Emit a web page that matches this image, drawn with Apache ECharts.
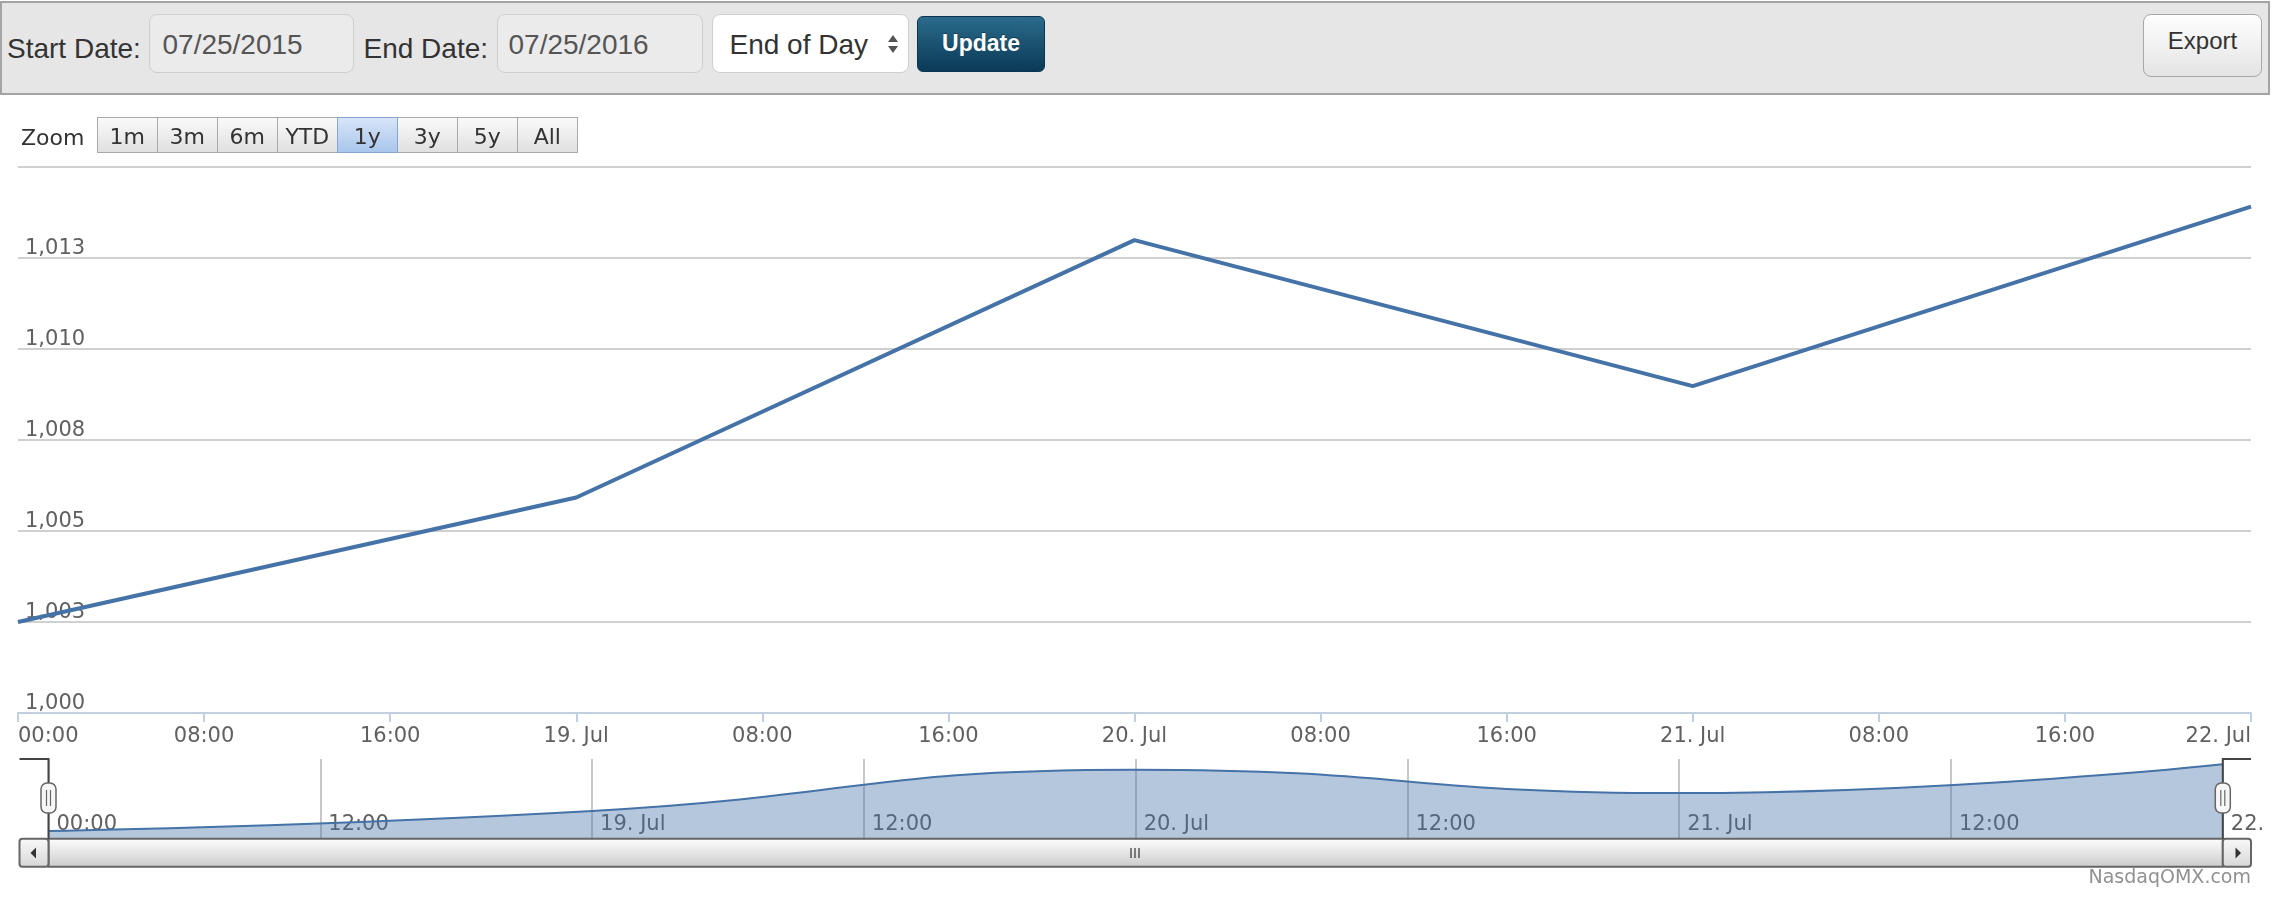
<!DOCTYPE html>
<html>
<head>
<meta charset="utf-8">
<script src="https://cdn.jsdelivr.net/npm/echarts@6/dist/echarts.min.js"></script>
<style>
html,body{margin:0;padding:0;background:#fff;width:2272px;height:906px;overflow:hidden;}
#chart{position:absolute;left:0;top:0;width:2268px;height:906px;}
.ui{position:absolute;z-index:10;font-family:"Liberation Sans",Arial,Helvetica,sans-serif;white-space:nowrap;}
#bar{left:0;top:1px;width:2266px;height:90px;border:2px solid #a4a4a4;background:#e6e6e6;z-index:5;}
.t28{font-size:28px;line-height:28px;}
.box{box-sizing:border-box;top:14px;height:59px;border:1.5px solid #cfcfcf;border-radius:8px;background:#ebebeb;}
.arr{width:0;height:0;border-left:5px solid transparent;border-right:5px solid transparent;}
.zb{position:absolute;box-sizing:border-box;top:116.7px;height:36.6px;width:61px;border:1.5px solid #a9a9a9;
    background:linear-gradient(#fafafa,#e0e0e0);font-family:"DejaVu Sans",sans-serif;font-size:22px;line-height:22px;color:#333;text-align:center;z-index:10;}
.zb span{position:absolute;left:0;right:0;top:8.5px;}
.zb.sel{background:linear-gradient(#d7e5f8,#a9c6ec);border-color:#86a5d0;z-index:11;}
</style>
</head>
<body>
<div id="chart"></div>

<div id="bar" class="ui"></div>
<div class="ui t28" style="left:7px;top:35.3px;color:#333;">Start Date:</div>
<div class="ui box" style="left:149px;width:205px;"></div>
<div class="ui t28" style="left:162.5px;top:31.3px;color:#555;">07/25/2015</div>
<div class="ui t28" style="left:363.5px;top:35.3px;color:#333;">End Date:</div>
<div class="ui box" style="left:497px;width:206px;"></div>
<div class="ui t28" style="left:508.5px;top:31.3px;color:#555;">07/25/2016</div>
<div class="ui box" style="left:712px;width:197px;background:#fff;"></div>
<div class="ui t28" style="left:729.5px;top:31.3px;color:#333;">End of Day</div>
<div class="ui arr" style="left:887.5px;top:35px;border-bottom:7px solid #555;"></div>
<div class="ui arr" style="left:887.5px;top:46px;border-top:7px solid #555;"></div>
<div class="ui" style="left:917px;top:16px;width:128px;height:56px;box-sizing:border-box;border:1px solid #0b3550;border-radius:6px;background:linear-gradient(#2b6b8b,#0a3a57);"></div>
<div class="ui" style="left:917px;width:128px;top:31.5px;text-align:center;font-size:23px;line-height:23px;font-weight:bold;color:#fff;text-shadow:0 -1px 0 rgba(0,0,0,0.35);">Update</div>
<div class="ui" style="left:2143px;top:14px;width:119px;height:63px;box-sizing:border-box;border:1.5px solid #a8a8a8;border-radius:8px;background:linear-gradient(#fefefe,#e4e4e4);"></div>
<div class="ui" style="left:2143px;width:119px;top:29px;text-align:center;font-size:24px;line-height:24px;color:#333;">Export</div>

<div class="ui" style="left:21px;top:126.7px;font-family:'DejaVu Sans',sans-serif;font-size:22px;line-height:22px;color:#333;">Zoom</div>
<div id="zoombtns"></div>

<script>
// ---- data ----
const dates = ['2016-07-18T00:00:00Z', '2016-07-19T00:00:00Z', '2016-07-20T00:00:00Z', '2016-07-21T00:00:00Z', '2016-07-22T00:00:00Z'];
const values = [1002.5, 1005.92, 1012.99, 1008.98, 1013.91];
const xTickLabels = ['00:00', '08:00', '16:00', '19. Jul', '08:00', '16:00', '20. Jul', '08:00', '16:00', '21. Jul', '08:00', '16:00', '22. Jul'];
const navTickLabels = ['00:00', '12:00', '19. Jul', '12:00', '20. Jul', '12:00', '21. Jul', '12:00', '22. Jul'];
const yTickLabels = ['1,000', '1,003', '1,005', '1,008', '1,010', '1,013', ''];
const zoomButtons = ['1m', '3m', '6m', 'YTD', '1y', '3y', '5y', 'All'];
const selectedZoom = '1y';
const credit = 'NasdaqOMX.com';

// ---- zoom buttons (HTML) ----
(function () {
  const host = document.getElementById('zoombtns');
  zoomButtons.forEach(function (b, i) {
    const d = document.createElement('div');
    d.className = 'zb' + (b === selectedZoom ? ' sel' : '');
    d.style.left = (96.8 + i * 60) + 'px';
    d.innerHTML = '<span>' + b + '</span>';
    host.appendChild(d);
  });
})();

// ---- chart ----
const t0 = Date.parse(dates[0]);
const hours = dates.map(d => (Date.parse(d) - t0) / 3600000);
const seriesData = hours.map((h, i) => [h, values[i]]);

const chart = echarts.init(document.getElementById('chart'), null, {renderer: 'canvas'});
const FONT = 'DejaVu Sans';
const LBL = '#606060';

const navTop = 759, navBot = 838.7, navL = 48.5, navR = 2222.8, outerL = 19.5, outerR = 2251;
const sbTop = 838.7, sbH = 28;
const grad = (a, b) => ({type: 'linear', x: 0, y: 0, x2: 0, y2: 1, colorStops: [{offset: 0, color: a}, {offset: 1, color: b}]});
const handle = (cx) => ([
  {type: 'rect', z: 120, shape: {x: cx - 7.5, y: 783, width: 15, height: 30, r: 6}, style: {fill: '#f7f7f7', stroke: '#666', lineWidth: 1.5}},
  {type: 'line', z: 121, shape: {x1: cx - 2, y1: 790, x2: cx - 2, y2: 806}, style: {stroke: '#666', lineWidth: 1.2}},
  {type: 'line', z: 121, shape: {x1: cx + 2, y1: 790, x2: cx + 2, y2: 806}, style: {stroke: '#666', lineWidth: 1.2}}
]);

const option = {
  animation: false,
  grid: [
    {left: 18, top: 167, width: 2233, height: 546, containLabel: false, outerBoundsMode: 'none'},
    {left: navL, top: navTop, width: navR - navL, height: navBot - navTop, containLabel: false, outerBoundsMode: 'none'}
  ],
  xAxis: [
    {
      type: 'value', gridIndex: 0, min: 0, max: 96, interval: 8,
      axisLine: {show: true, lineStyle: {color: '#C0D0E0', width: 2}},
      axisTick: {show: true, length: 9, lineStyle: {color: '#C0D0E0', width: 2}},
      axisLabel: {
        formatter: v => xTickLabels[Math.round(v / 8)], color: LBL, fontFamily: FONT, fontSize: 21,
        margin: 13, alignMinLabel: 'left', alignMaxLabel: 'right'
      },
      splitLine: {show: false}
    },
    {
      type: 'value', gridIndex: 1, min: 0, max: 96, interval: 12,
      axisLine: {show: false}, axisTick: {show: false},
      axisLabel: {
        inside: true, formatter: v => navTickLabels[Math.round(v / 12)], align: 'left', padding: [0, 0, 0, 8],
        color: LBL, fontFamily: FONT, fontSize: 21, margin: 4
      },
      splitLine: {show: true, lineStyle: {color: '#b4b4b4', width: 1.5}}
    }
  ],
  yAxis: [
    {
      type: 'value', gridIndex: 0, min: 1000, max: 1015, interval: 2.5,
      axisLine: {show: false}, axisTick: {show: false},
      axisLabel: {
        inside: true, formatter: v => yTickLabels[Math.round((v - 1000) / 2.5)], verticalAlign: 'bottom',
        margin: 7, color: LBL, fontFamily: FONT, fontSize: 21, lineHeight: 19, padding: [0, 0, 0, 0]
      },
      splitLine: {show: true, lineStyle: {color: '#C0C0C0', width: 1.5}}
    },
    {type: 'value', gridIndex: 1, min: 1001.18, max: 1014.82, show: false, splitLine: {show: false}}
  ],
  series: [
    {
      type: 'line', xAxisIndex: 0, yAxisIndex: 0, data: seriesData, symbol: 'none',
      lineStyle: {color: '#4572A7', width: 4}, z: 5
    },
    {
      type: 'line', xAxisIndex: 1, yAxisIndex: 1, data: seriesData, symbol: 'none', smooth: true,
      lineStyle: {color: '#4572A7', width: 2}, areaStyle: {color: '#4572A7', opacity: 0.4, origin: 'start'}, z: 5
    }
  ],
  graphic: [
    // scrollbar
    {type: 'rect', z: 100, shape: {x: navL, y: sbTop, width: navR - navL, height: sbH}, style: {fill: grad('#ffffff', '#cbcbcb'), stroke: '#666', lineWidth: 2}},
    {type: 'rect', z: 101, shape: {x: outerL, y: sbTop, width: navL - outerL, height: sbH, r: 3}, style: {fill: grad('#fafafa', '#d6d6d6'), stroke: '#666', lineWidth: 2}},
    {type: 'rect', z: 101, shape: {x: navR, y: sbTop, width: outerR - navR, height: sbH, r: 3}, style: {fill: grad('#fafafa', '#d6d6d6'), stroke: '#666', lineWidth: 2}},
    {type: 'polygon', z: 102, shape: {points: [[36, 847.5], [36, 858.5], [30.5, 853]]}, style: {fill: '#333'}},
    {type: 'polygon', z: 102, shape: {points: [[2235.5, 847.5], [2235.5, 858.5], [2241, 853]]}, style: {fill: '#333'}},
    {type: 'line', z: 102, shape: {x1: 1131, y1: 848, x2: 1131, y2: 858}, style: {stroke: '#333', lineWidth: 1.2}},
    {type: 'line', z: 102, shape: {x1: 1135, y1: 848, x2: 1135, y2: 858}, style: {stroke: '#333', lineWidth: 1.2}},
    {type: 'line', z: 102, shape: {x1: 1139, y1: 848, x2: 1139, y2: 858}, style: {stroke: '#333', lineWidth: 1.2}},
    // navigator outline
    {type: 'polyline', z: 110, shape: {points: [[outerL, navTop], [navL, navTop], [navL, navBot]]}, style: {stroke: '#444', lineWidth: 2, fill: null}},
    {type: 'polyline', z: 110, shape: {points: [[navR, navBot], [navR, navTop], [outerR, navTop]]}, style: {stroke: '#444', lineWidth: 2, fill: null}},
    ...handle(navL), ...handle(navR),
    // credit
    {type: 'text', z: 100, style: {x: 2251, y: 878, text: credit, align: 'right', verticalAlign: 'middle', fill: '#909090', font: '19px "DejaVu Sans"'}}
  ]
};
chart.setOption(option);
</script>
</body>
</html>
